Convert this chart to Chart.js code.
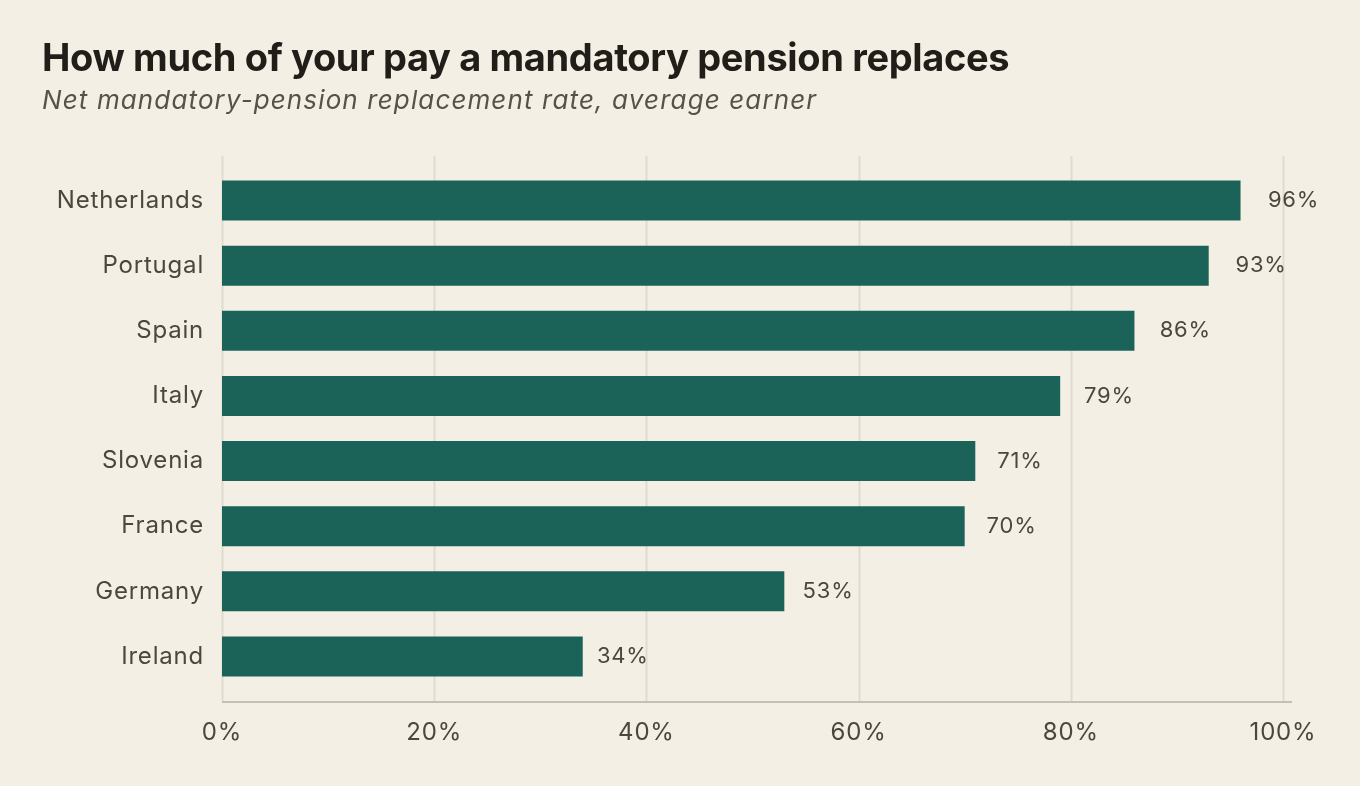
<!DOCTYPE html>
<html>
<head>
<meta charset="utf-8">
<script src="https://cdn.jsdelivr.net/npm/chart.js@4.4.1/dist/chart.umd.min.js"></script>
<style>
  html, body { margin: 0; padding: 0; background: #F3EFE4; }
  #wrap { position: relative; width: 1360px; height: 786px; }
  #title {
    position: absolute; left: 42px; top: 34px;
    font-family: Inter, sans-serif; font-weight: 700; font-size: 38px;
    letter-spacing: -0.35px; color: #211E1A; white-space: nowrap;
  }
  #subtitle {
    position: absolute; left: 42px; top: 84px;
    font-family: Inter, sans-serif; font-style: italic; font-size: 26px;
    letter-spacing: 1.12px; color: #55524A; white-space: nowrap;
  }
  canvas { position: absolute; left: 0; top: 0; }
</style>
</head>
<body>
<div id="wrap">
  <canvas id="pensionChart" width="1360" height="786"></canvas>
  <div id="title">How much of your pay a mandatory pension replaces</div>
  <div id="subtitle">Net mandatory-pension replacement rate, average earner</div>
</div>
<script>
// data
const countries = ['Netherlands', 'Portugal', 'Spain', 'Italy', 'Slovenia', 'France', 'Germany', 'Ireland'];
const replacementRates = [96, 93, 86, 79, 71, 70, 53, 34];
const xTicks = [0, 20, 40, 60, 80, 100];

const BAR_COLOR = '#1B6359';
const GRID_COLOR = '#E0DBCF';
const AXIS_COLOR = '#C5C0B4';
const TEXT_COLOR = '#4A473F';

// gridlines run a bit past the bar area, plus the value labels
const extrasPlugin = {
  id: 'extras',
  beforeDraw(chart) {
    chart.ctx.letterSpacing = '0.8px';
  },
  beforeDatasetsDraw(chart) {
    const { ctx, chartArea, scales } = chart;
    const top = chartArea.top - 12;
    const bottom = chartArea.bottom + 13;
    ctx.save();
    ctx.lineWidth = 2;
    ctx.strokeStyle = GRID_COLOR;
    xTicks.forEach(v => {
      const x = Math.round(scales.x.getPixelForValue(v)) + 0.5;
      ctx.beginPath();
      ctx.moveTo(x, top);
      ctx.lineTo(x, bottom);
      ctx.stroke();
    });
    ctx.strokeStyle = AXIS_COLOR;
    ctx.beginPath();
    ctx.moveTo(chartArea.left, bottom);
    ctx.lineTo(chartArea.right, bottom);
    ctx.stroke();
    ctx.restore();
  },
  afterDatasetsDraw(chart) {
    const { ctx } = chart;
    const meta = chart.getDatasetMeta(0);
    ctx.save();
    ctx.font = '22px Inter';
    ctx.letterSpacing = '0.8px';
    ctx.fillStyle = TEXT_COLOR;
    ctx.textAlign = 'left';
    ctx.textBaseline = 'middle';
    meta.data.forEach((bar, i) => {
      const len = bar.x - bar.base;
      ctx.fillText(replacementRates[i] + '%', bar.base + len * 1.02 + 7, bar.y);
    });
    ctx.restore();
  }
};

new Chart(document.getElementById('pensionChart'), {
  type: 'bar',
  data: {
    labels: countries,
    datasets: [{
      data: replacementRates,
      backgroundColor: BAR_COLOR,
      borderWidth: 0,
      barPercentage: 0.615,
      categoryPercentage: 1.0
    }]
  },
  options: {
    indexAxis: 'y',
    responsive: false,
    animation: false,
    events: [],
    layout: { padding: { top: 168, right: 68, left: 0, bottom: 0 } },
    plugins: {
      legend: { display: false },
      tooltip: { enabled: false }
    },
    scales: {
      x: {
        min: 0,
        max: 100.85,
        afterBuildTicks: axis => { axis.ticks = xTicks.map(v => ({ value: v })); },
        afterFit: axis => { axis.height = 786 - 689; },
        grid: { display: false },
        border: { display: false },
        ticks: {
          padding: 21,
          color: TEXT_COLOR,
          font: { family: 'Inter', size: 24 },
          callback: v => v + '%',
          maxRotation: 0
        }
      },
      y: {
        afterFit: axis => { axis.width = 222; },
        grid: { display: false },
        border: { display: false },
        ticks: {
          padding: 10,
          color: TEXT_COLOR,
          font: { family: 'Inter', size: 24 }
        }
      }
    }
  },
  plugins: [extrasPlugin]
});
</script>
</body>
</html>
